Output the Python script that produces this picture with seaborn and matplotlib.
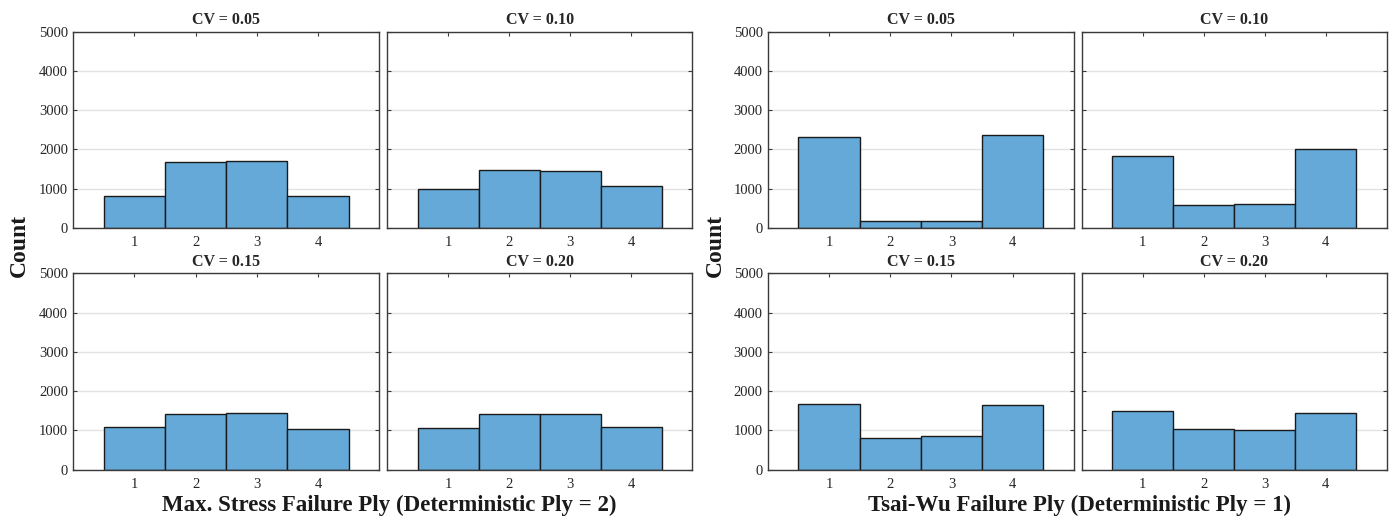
import numpy as np
import pandas as pd
import matplotlib
matplotlib.use("Agg")
import matplotlib.pyplot as plt
import seaborn as sns

# ---- data ----
plies = [1, 2, 3, 4]
cv_titles = ["CV = 0.05", "CV = 0.10", "CV = 0.15", "CV = 0.20"]

ms_cv005 = [800, 1680, 1700, 800]
ms_cv010 = [990, 1460, 1450, 1075]
ms_cv015 = [1085, 1415, 1445, 1045]
ms_cv020 = [1070, 1425, 1425, 1075]

tw_cv005 = [2310, 165, 165, 2370]
tw_cv010 = [1820, 570, 600, 2000]
tw_cv015 = [1675, 810, 860, 1640]
tw_cv020 = [1500, 1035, 1000, 1450]

yticks = [0, 1000, 2000, 3000, 4000, 5000]
xlabel_ms = "Max. Stress Failure Ply (Deterministic Ply = 2)"
xlabel_tw = "Tsai-Wu Failure Ply (Deterministic Ply = 1)"
ylabel = "Count"

# ---- style ----
sns.set_theme(style="white")
plt.rcParams["font.family"] = ["Liberation Serif", "DejaVu Serif"]
plt.rcParams["mathtext.fontset"] = "stix"

W, H = 1397, 530
fig = plt.figure(figsize=(W / 100, H / 100), dpi=100)

def frac_box(l, r, t, b):
    return [l / W, 1 - b / H, (r - l) / W, (b - t) / H]

cols = [(73, 379.3), (387.3, 692.3), (767.7, 1074), (1081.7, 1386.7)]
rows = [(31.7, 227.7), (273.3, 469.7)]

groups = [
    (0, [ms_cv005, ms_cv010, ms_cv015, ms_cv020]),
    (2, [tw_cv005, tw_cv010, tw_cv015, tw_cv020]),
]

bar_color = "#64A9D7"
spine_color = "#3a3a3a"

for col0, series in groups:
    for k, counts in enumerate(series):
        r, c = divmod(k, 2)
        l, rr = cols[col0 + c]
        t, b = rows[r]
        ax = fig.add_axes(frac_box(l, rr, t, b))
        df = pd.DataFrame({"ply": plies, "count": counts})
        sns.histplot(data=df, x="ply", weights="count", discrete=True, ax=ax,
                     color=bar_color, alpha=1, edgecolor="#1a1a1a", linewidth=1.0)
        ax.set_xlim(0, 5)
        ax.set_ylim(0, 5000)
        ax.set_xticks(plies)
        ax.set_yticks(yticks)
        ax.yaxis.grid(True, color="#e3e3e3", linewidth=1.0)
        ax.set_axisbelow(True)
        ax.set_xlabel("")
        ax.set_ylabel("")
        ax.set_title(cv_titles[k], fontsize=11.5, fontweight="bold", pad=5.5)
        for s in ax.spines.values():
            s.set_color(spine_color)
            s.set_linewidth(1.0)
        ax.tick_params(axis="both", direction="in", length=3, width=0.8,
                       color=spine_color, labelsize=10.5, labelcolor="#262626",
                       top=True, right=True, bottom=True, left=True)
        ax.tick_params(axis="x", pad=6)
        ax.tick_params(axis="y", pad=3.5)
        if c == 1:
            ax.set_yticklabels([])

fig.text(389 / W, 1 - 511 / H, xlabel_ms, ha="center", va="baseline",
         fontsize=16.5, fontweight="bold", color="#1a1a1a")
fig.text(1080 / W, 1 - 511 / H, xlabel_tw, ha="center", va="baseline",
         fontsize=16.5, fontweight="bold", color="#1a1a1a")
fig.text(19 / W, 1 - 245 / H, ylabel, ha="center", va="center", rotation=90,
         fontsize=17, fontweight="bold", color="#1a1a1a")
fig.text(715 / W, 1 - 245 / H, ylabel, ha="center", va="center", rotation=90,
         fontsize=17, fontweight="bold", color="#1a1a1a")

fig.savefig("out.png", dpi=100, facecolor="white")
